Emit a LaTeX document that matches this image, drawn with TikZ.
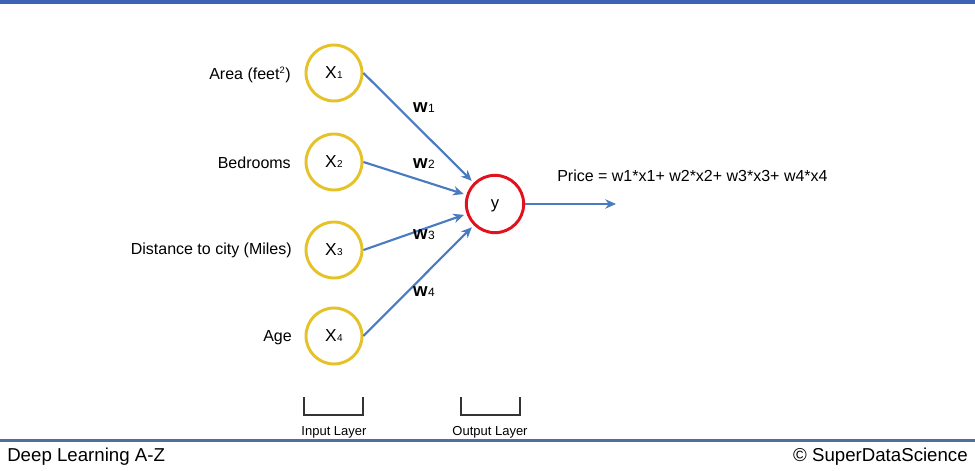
\documentclass[tikz,border=0pt]{standalone}
\usepackage{fontspec}
\setmainfont{Liberation Sans}
\usetikzlibrary{arrows.meta}
\definecolor{topbar}{HTML}{3D64B4}
\definecolor{botline}{HTML}{4F6F9F}
\definecolor{inyellow}{HTML}{E6C229}
\definecolor{outred}{HTML}{E3101E}
\definecolor{arrblue}{HTML}{4A7BC0}
\definecolor{brk}{HTML}{333333}
\newcommand{\xsub}[1]{X\kern0.3pt{\fontsize{7.5}{8}\selectfont #1}}
\newcommand{\wsub}[1]{{\bfseries w}\kern0.3pt{\fontsize{9}{10}\selectfont #1}}
\begin{document}
\begin{tikzpicture}[x=0.75pt,y=-0.75pt,
  innode/.style={circle,draw=inyellow,line width=2.2pt,minimum size=42pt,inner sep=0pt,font=\fontsize{13}{14}\selectfont},
  outnode/.style={circle,draw=outred,line width=2.2pt,minimum size=43pt,inner sep=0pt,font=\fontsize{12.5}{14}\selectfont},
  lbl/.style={anchor=east,inner sep=0pt,font=\fontsize{12}{14}\selectfont},
  wlbl/.style={inner sep=0pt,font=\fontsize{14}{16}\selectfont},
  conn/.style={draw=arrblue,line width=1.6pt,-{Stealth[length=8pt,width=7pt,inset=2.5pt]},shorten >=2pt},
  layerlbl/.style={inner sep=0pt,font=\fontsize{9.75}{11}\selectfont},
  bracketline/.style={draw=brk,line width=1.6pt},
  foot/.style={inner sep=0pt,font=\fontsize{14}{16}\selectfont}]
\useasboundingbox (0,0) rectangle (975,471);
\fill[topbar] (0,0) rectangle (975,3.5);
\fill[botline] (0,439) rectangle (975,441.5);

\node[innode] (x1) at (334,73) {\xsub{1}};
\node[innode] (x2) at (334,162) {\xsub{2}};
\node[innode] (x3) at (334,250) {\xsub{3}};
\node[innode] (x4) at (334,336) {\xsub{4}};
\node[outnode] (y) at (495,204) {\smash{\raisebox{-3pt}{y}}};

\node[lbl] (l1) at (291,75) {Area (feet\textsuperscript{\fontsize{7}{8}\selectfont 2})};
\node[lbl] (l2) at (291,163) {Bedrooms};
\node[lbl] (l3) at (292,250) {Distance to city (Miles)};
\node[lbl] (l4) at (292,338) {Age};

\draw[conn] (x1.east) -- (y);
\draw[conn] (x2.east) -- (y);
\draw[conn] (x3.east) -- (y);
\draw[conn] (x4.east) -- (y);

\node[wlbl] (w1) at (424,108) {\wsub{1}};
\node[wlbl] (w2) at (424,164) {\wsub{2}};
\node[wlbl] (w3) at (424,235) {\wsub{3}};
\node[wlbl] (w4) at (424,292) {\wsub{4}};

\coordinate (outend) at (616,204);
\draw[conn,shorten >=0pt] (y.east) -- (outend);
\node[anchor=west,inner sep=0pt,font=\fontsize{12}{14}\selectfont] (price) at (557,176) {Price = w1*x1+ w2*x2+ w3*x3+ w4*x4};

\draw[bracketline] (304,397) -- (304,415) -- (363,415) -- (363,397);
\draw[bracketline] (461,397) -- (461,415) -- (520,415) -- (520,397);
\node[layerlbl] (inl) at (334,432) {Input Layer};
\node[layerlbl] (outl) at (490,432) {Output Layer};

\node[foot,anchor=west] (dl) at (7,457) {Deep Learning A-Z};
\node[foot,anchor=east] (sds) at (968,457) {© SuperDataScience};
\end{tikzpicture}
\end{document}
